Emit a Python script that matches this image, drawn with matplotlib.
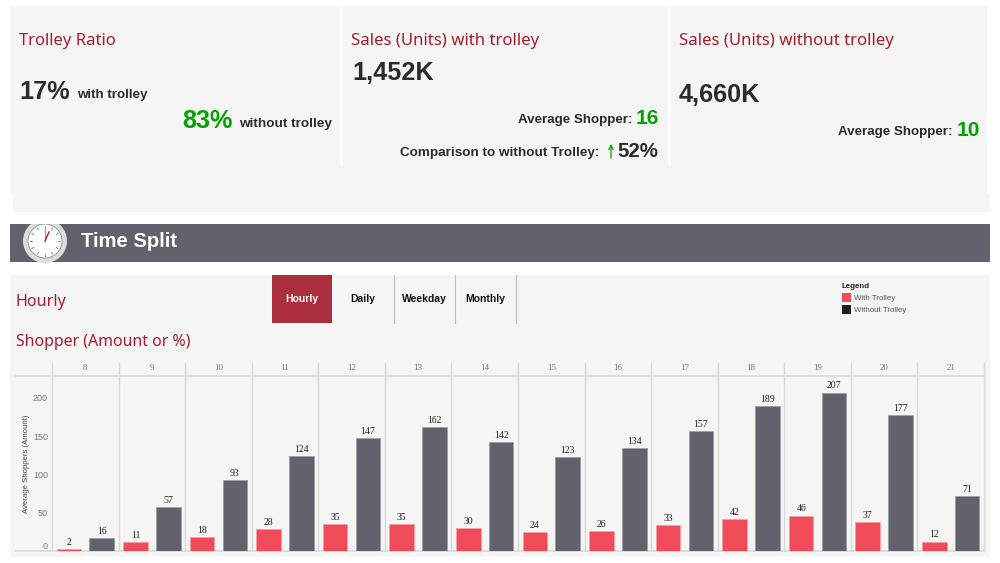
import numpy as np
import matplotlib
matplotlib.use('Agg')
import matplotlib.pyplot as plt
from matplotlib.patches import Rectangle, Circle

hours = ['8', '9', '10', '11', '12', '13', '14', '15', '16', '17', '18', '19', '20', '21']
with_trolley = [2, 11, 18, 28, 35, 35, 30, 24, 26, 33, 42, 46, 37, 12]
without_trolley = [16, 57, 93, 124, 147, 162, 142, 123, 134, 157, 189, 207, 177, 71]
y_ticks = [0, 50, 100, 150, 200]
tabs = ['Hourly', 'Daily', 'Weekday', 'Monthly']

PANEL = '#f5f5f5'
RED = '#a61c2e'
GREEN = '#00a300'
DARK = '#2b2b2b'
SLATE = '#62626d'
CORAL = '#f04b58'
GRID = '#d9d9d9'
TITLE_FONT = 'Noto Sans'
NUM_FONT = 'Liberation Sans'

W, H = 1000, 563
fig = plt.figure(figsize=(W / 100, H / 100), dpi=100, facecolor='white')

# overlay in pixel coordinates for the dashboard furniture
bg = fig.add_axes([0, 0, 1, 1], zorder=0)
bg.set_xlim(0, W)
bg.set_ylim(H, 0)
bg.axis('off')


def box(x0, y0, x1, y1, color, **kw):
    bg.add_patch(Rectangle((x0, y0), x1 - x0, y1 - y0, facecolor=color, edgecolor='none', **kw))


def label(x, y, s, size, color=DARK, font=NUM_FONT, weight='bold', ha='left', va='baseline', **kw):
    return bg.text(x, y, s, fontsize=size, color=color, family=font, fontweight=weight,
                   ha=ha, va=va, **kw)


# KPI cards
box(10, 6, 987, 194, PANEL)
box(13, 194, 990, 212, PANEL)
box(340, 6, 343, 165, 'white')
box(668, 6, 671, 165, 'white')

label(19, 45, 'Trolley Ratio', 12, RED, TITLE_FONT, 'normal')
label(351, 45, 'Sales (Units) with trolley', 12.1, RED, TITLE_FONT, 'normal')
label(679, 45, 'Sales (Units) without trolley', 12.1, RED, TITLE_FONT, 'normal')

label(19, 99, '17%', 18.2)
label(77, 98, 'with trolley', 9.6)
label(182, 128, '83%', 18.2, GREEN)
label(331.5, 127, 'without trolley', 9.7, ha='right')

label(352, 80, '1,452K', 18.2)
label(632, 123, 'Average Shopper:', 9.6, ha='right')
label(659, 124, '16', 15, GREEN, ha='right')
label(599, 156, 'Comparison to without Trolley:', 9.7, ha='right')
bg.annotate('', xy=(611, 141), xytext=(611, 161),
            arrowprops=dict(arrowstyle='->', color=GREEN, lw=0.9, mutation_scale=8))
label(658, 157, '52%', 14.7, ha='right')

label(679, 102, '4,660K', 18.2)
label(953, 135, 'Average Shopper:', 9.6, ha='right')
label(980, 136, '10', 15, GREEN, ha='right')

# banner with clock
box(10, 224, 990, 262, SLATE)
clip = Rectangle((10, 224), 100, 39, transform=bg.transData)
for r, c in [(22, '#dcdcdc'), (17.5, '#9a9a9a'), (16.5, 'white')]:
    p = Circle((45, 241), r, facecolor=c, edgecolor='none')
    bg.add_patch(p)
    p.set_clip_path(clip)
for a in np.arange(0, 360, 30):
    rad = np.deg2rad(a)
    bg.plot([45 + 13 * np.sin(rad), 45 + 15 * np.sin(rad)], [241 - 13 * np.cos(rad), 241 - 15 * np.cos(rad)],
            color='#777777', lw=0.6)
bg.plot([45, 45], [241, 228], color='#999999', lw=0.8)
bg.plot([45, 49], [241, 232], color='#c0202c', lw=1.0)
label(81, 247, 'Time Split', 14.6, 'white')

# lower panel
box(10, 275, 990, 557, PANEL)
label(15.5, 306, 'Hourly', 11.6, RED, TITLE_FONT, 'normal')
label(16, 346, 'Shopper (Amount or %)', 11.4, RED, TITLE_FONT, 'normal')

box(272, 275, 332, 323, '#ab2e3e')
tab_centres = [302, 363, 424, 485]
for name, cx in zip(tabs, tab_centres):
    label(cx, 299.5, name, 7.5, 'white' if name == 'Hourly' else '#111111', va='center', ha='center')
for sx in [394, 455, 516]:
    bg.plot([sx, sx], [275, 323], color='#bdbdbd', lw=0.8)

# legend, drawn by hand to sit where the reference has it
label(842, 288, 'Legend', 5.7, '#222222')
box(842, 293, 851, 302, CORAL)
box(842, 305, 851, 314, '#1c1c28')
label(854, 300, 'With Trolley', 5.7, '#555555', 'Liberation Sans', 'normal')
label(854, 312, 'Without Trolley', 5.7, '#555555', 'Liberation Sans', 'normal')

# hour strip above the bars
strip_top, strip_bottom = 363, 376
left, right, base = 52, 984, 550.7
for i, h in enumerate(hours):
    cx = left + (i + 0.5) * (right - left) / len(hours)
    label(cx, (strip_top + strip_bottom) / 2 - 1, h, 6.5, '#777777', 'Liberation Serif', 'normal', ha='center', va='center')
bg.plot([16, right], [strip_bottom, strip_bottom], color=GRID, lw=1.2)
bg.plot([16, right], [base, base], color=GRID, lw=1.2)

# bar chart
ax = fig.add_axes([left / W, 1 - base / H, (right - left) / W, (base - strip_top) / H], zorder=1)
ax.patch.set_alpha(0)
x = np.arange(len(hours)) + 0.5
bw = 0.37
off = 0.247
ax.bar(x - off, with_trolley, bw, color=CORAL, edgecolor='#f6a0a6', lw=0.5, zorder=3)
ax.bar(x + off, without_trolley, bw, color=SLATE, edgecolor='#9a9aa2', lw=0.5, zorder=3)
ax.set_xlim(0, len(hours))
ax.set_ylim(0, (base - strip_top) / 0.764)
for i in range(len(hours) + 1):
    ax.axvline(i, color=GRID, lw=1.0, zorder=1, clip_on=False)
for xi, v in zip(x - off, with_trolley):
    ax.annotate(str(v), (xi, v), xytext=(0, 1.5), textcoords='offset points', ha='center', va='bottom',
                fontsize=7, family='Liberation Serif', color='#222222')
for xi, v in zip(x + off, without_trolley):
    ax.annotate(str(v), (xi, v), xytext=(0, 1.5), textcoords='offset points', ha='center', va='bottom',
                fontsize=7, family='Liberation Serif', color='#222222')
for s in ax.spines.values():
    s.set_visible(False)
ax.set_xticks([])
ax.set_yticks(y_ticks)
ax.tick_params(axis='y', length=0, pad=3, labelsize=6.5, labelcolor='#777777')
for t in ax.get_yticklabels():
    t.set_family('Liberation Sans')
ax.get_yticklabels()[0].set_verticalalignment('bottom')
ax.set_ylabel('Average Shoppers (Amount)', fontsize=5.6, family='Liberation Sans', color='#444444')
ax.yaxis.set_label_coords(-0.024, 0.465)

fig.savefig('out.png', dpi=100, facecolor='white')
